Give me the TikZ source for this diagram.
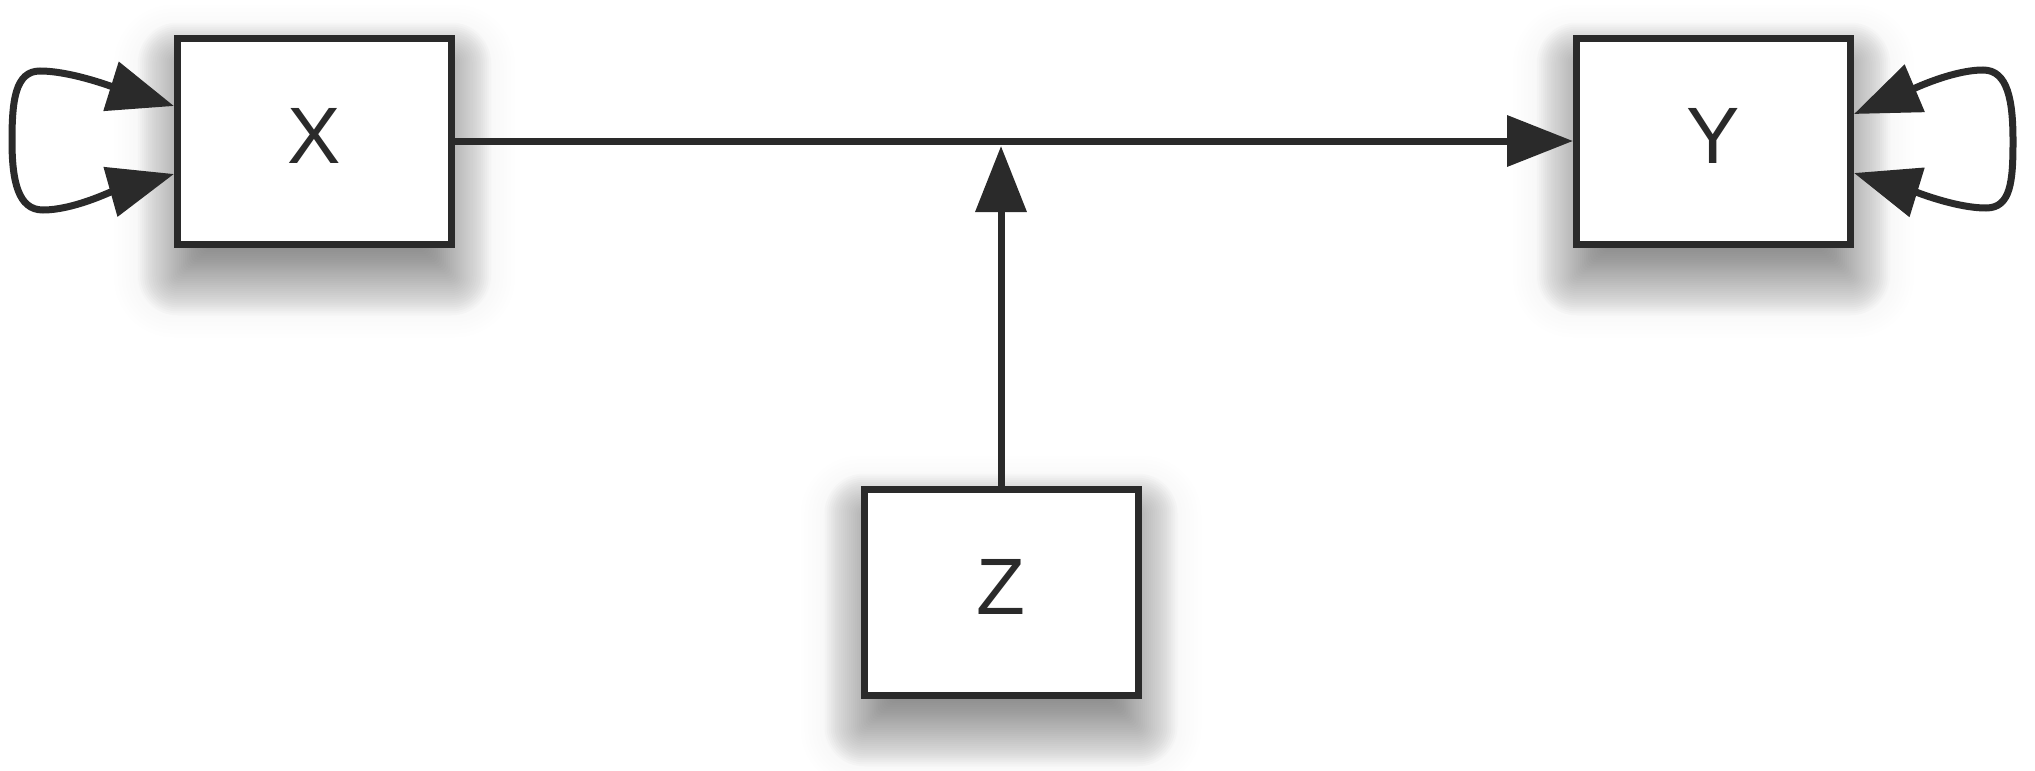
\documentclass[tikz,border=0pt]{standalone}
\usepackage{fontspec}
\setmainfont{Liberation Sans}
\usetikzlibrary{arrows.meta,calc,backgrounds}
\definecolor{ink}{HTML}{2A2A2A}
% soft shadow under a box: a faint wide halo plus a darker blurred drop shadow,
% built from stacked translucent rounded rectangles
\newcommand\boxshadow[1]{%
  \foreach \i in {0,...,11}{%
    \pgfmathsetmacro\e{18+42*\i/11}%
    \pgfmathsetmacro\rc{0.5*\e}%
    \fill[black, fill opacity=0.005, rounded corners=\rc pt]
      ($(#1.south west)+(-\e,\e+30)$) rectangle ($(#1.north east)+(\e,-\e+30)$);
  }%
  \foreach \i in {0,...,39}{%
    \pgfmathsetmacro\e{-40+80*\i/39}%
    \pgfmathsetmacro\rc{max(0.5*\e,3)}%
    \fill[black, fill opacity=0.017, rounded corners=\rc pt]
      ($(#1.south west)+(-\e+4,\e+28)$) rectangle ($(#1.north east)+(\e-4,-\e+28)$);
  }%
}
\begin{document}
\begin{tikzpicture}[x=0.5pt,y=-0.5pt,
  box/.style={draw=ink, line width=3.5pt, fill=white,
    minimum width=137pt, minimum height=103pt, inner sep=0pt,
    text=ink, font=\fontsize{40}{48}\selectfont, text depth=5pt},
  link/.style={draw=ink, line width=3.5pt, -{Triangle[length=33pt,width=25pt]}},
  loop/.style={draw=ink, line width=3.5pt,
    {Triangle[length=33pt,width=25pt]}-{Triangle[length=33pt,width=25pt]}},
]
\useasboundingbox (0,0) rectangle (2035,771);

% boxes
\node[box] (X) at (314.5,141) {X};
\node[box] (Y) at (1713.5,141) {Y};
\node[box] (Z) at (1001,592) {Z};

\begin{scope}[on background layer]
  \boxshadow{X}
  \boxshadow{Y}
  \boxshadow{Z}
\end{scope}

% main connector and the arrow from Z onto it
\draw[link] (X.east) -- (Y.west);
\coordinate (join) at ($(Z.north |- X.east)+(0,5)$);
\draw[link] (Z.north) -- (join);

% two-headed self loop on X
\coordinate (xa) at ($(X.west)+(0,-35)$);
\coordinate (xb) at ($(X.west)+(0,33)$);
\coordinate (xt) at ($(xa)+(-134,-35)$);
\coordinate (xl) at ($(X.west)+(-162,0)$);
\coordinate (xm) at ($(xb)+(-131,36)$);
\draw[loop] (xa) .. controls +(-64,-20) and +(30,0) .. (xt)
  .. controls +(-25,0) and +(0,-40) .. (xl)
  .. controls +(0,40) and +(-25,0) .. (xm)
  .. controls +(30,0) and +(-64,18) .. (xb);

% two-headed self loop on Y
\coordinate (ya) at ($(Y.east)+(0,-27)$);
\coordinate (yb) at ($(Y.east)+(0,32)$);
\coordinate (yt) at ($(ya)+(129,-44)$);
\coordinate (yr) at ($(Y.east)+(159,0)$);
\coordinate (ym) at ($(yb)+(132,35)$);
\draw[loop] (ya) .. controls +(59,-25) and +(-30,0) .. (yt)
  .. controls +(25,0) and +(0,-40) .. (yr)
  .. controls +(0,40) and +(25,0) .. (ym)
  .. controls +(-30,0) and +(62,19) .. (yb);
\end{tikzpicture}
\end{document}
